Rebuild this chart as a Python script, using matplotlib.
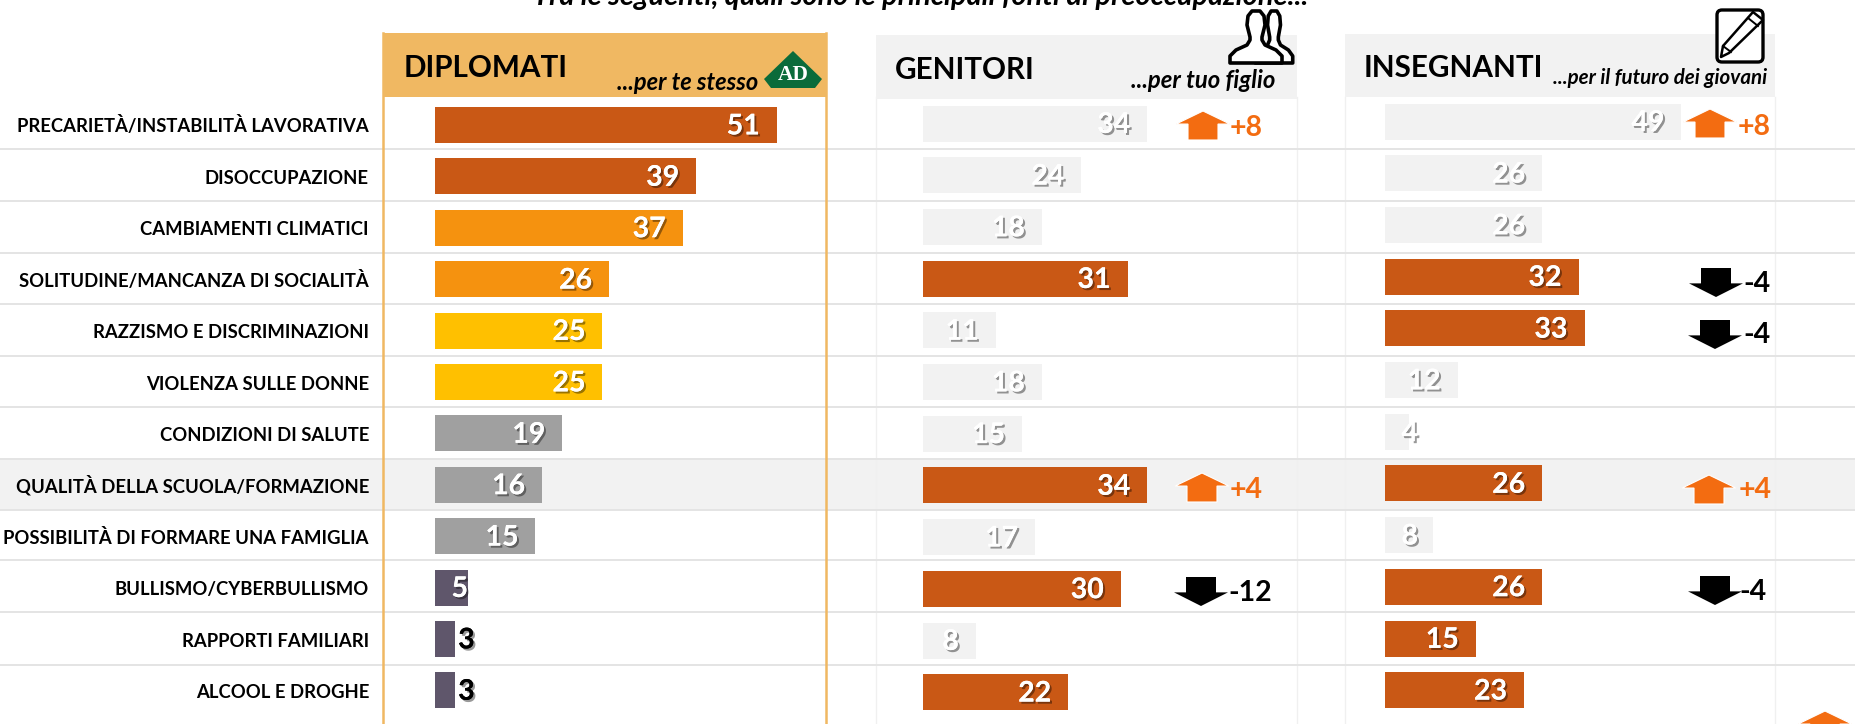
import matplotlib
matplotlib.use("Agg")
import matplotlib.pyplot as plt
import matplotlib.patheffects as pe
from matplotlib.patches import Polygon, Rectangle, FancyBboxPatch

plt.rcParams['font.family'] = ['Lato', 'DejaVu Sans']

W, H = 1856, 724

categories = ["PRECARIETÀ/INSTABILITÀ LAVORATIVA", "DISOCCUPAZIONE", "CAMBIAMENTI CLIMATICI",
              "SOLITUDINE/MANCANZA DI SOCIALITÀ", "RAZZISMO E DISCRIMINAZIONI", "VIOLENZA SULLE DONNE",
              "CONDIZIONI DI SALUTE", "QUALITÀ DELLA SCUOLA/FORMAZIONE", "POSSIBILITÀ DI FORMARE UNA FAMIGLIA",
              "BULLISMO/CYBERBULLISMO", "RAPPORTI FAMILIARI", "ALCOOL E DROGHE"]
diplomati = [51, 39, 37, 26, 25, 25, 19, 16, 15, 5, 3, 3]
genitori = [34, 24, 18, 31, 11, 18, 15, 34, 17, 30, 8, 22]
insegnanti = [49, 26, 26, 32, 33, 12, 4, 26, 8, 26, 15, 23]
diplomati_colors = ["#C95815", "#C95815", "#F5920F", "#F5920F", "#FFC000", "#FFC000",
                    "#A0A0A0", "#A0A0A0", "#A0A0A0", "#5F566B", "#5F566B", "#5F566B"]
genitori_high = [3, 7, 9, 11]
insegnanti_high = [3, 4, 7, 9, 10, 11]
genitori_delta = {0: "+8", 7: "+4", 9: "-12"}
insegnanti_delta = {0: "+8", 3: "-4", 4: "-4", 7: "+4", 9: "-4"}

ORANGE, DARK, GREY = "#F36C11", "#C95815", "#F2F2F2"
GRID = "#E4E4E4"

fig = plt.figure(figsize=(W / 100, H / 100), dpi=100, facecolor="white")

bg = fig.add_axes([0, 0, 1, 1], zorder=0)
bg.set_xlim(0, W); bg.set_ylim(H, 0); bg.axis("off")
top = fig.add_axes([0, 0, 1, 1], zorder=5)
top.set_xlim(0, W); top.set_ylim(H, 0); top.axis("off"); top.patch.set_alpha(0)

# highlighted row and grid lines
bg.add_patch(Rectangle((0, 459), W, 51, fc=GREY, ec="none"))
for y in [149, 201, 253, 304, 356, 407, 459, 510, 560, 612, 665]:
    bg.plot([0, W], [y, y], color=GRID, lw=1.4, zorder=2)

# panel columns
for x in [876, 1297, 1345, 1775]:
    bg.plot([x, x], [97, H], color="#F0F0F0", lw=1.0, zorder=1.5)
for x in [383, 826]:
    bg.plot([x, x], [33, H], color="#F0B862", lw=1.8, zorder=3)
bg.add_patch(Rectangle((383, 33), 443, 64, fc="#F0B862", ec="none", zorder=3))
bg.add_patch(Rectangle((876, 35), 421, 64, fc=GREY, ec="none", zorder=3))
bg.add_patch(Rectangle((1345, 34), 430, 63, fc=GREY, ec="none", zorder=3))

# title (cropped by the top edge of the picture, as in the reference)
top.text(921, 5, "Tra le seguenti, quali sono le principali fonti di preoccupazione...",
         ha="center", va="baseline", fontsize=20.8, fontweight="bold", fontstyle="italic", color="black")

# headers
def header(x, y, s):
    top.text(x, y, s, ha="left", va="center", fontsize=21.3, fontweight="bold", color="black")
def sub(xr, y, s, fs=17):
    top.text(xr, y, s, ha="right", va="center", fontsize=fs, fontweight="bold", fontstyle="italic", color="black")
header(404, 68, "DIPLOMATI")
header(895, 70, "GENITORI")
header(1364, 68, "INSEGNANTI")
sub(758, 83, "...per te stesso")
sub(1275, 81, "...per tuo figlio", 17.2)
sub(1767, 78, "...per il futuro dei giovani", 14.8)

# AD logo
top.add_patch(Polygon([(793, 51), (822, 79), (815, 88), (771, 88), (764, 79)], fc="#0B6B3A", ec="none"))
top.text(793, 75, "AD", ha="center", va="center", fontsize=15.5, fontweight="bold", color="white",
         family="Liberation Serif")

# parents icon
def bust(cx, scale, z):
    xs = [cx - 6, cx - 9, cx - 8, cx - 4, cx + 4, cx + 8, cx + 9, cx + 6, cx + 6, cx + 9,
          cx + 20, cx + 26, cx + 26, cx - 26, cx - 26, cx - 20, cx - 9, cx - 6]
    ys = [37, 25, 16, 11, 11, 16, 25, 37, 40, 45, 50, 56, 63, 63, 56, 50, 45, 40]
    xs = [cx + (v - cx) * scale for v in xs]
    top.add_patch(Polygon(list(zip(xs, ys)), closed=True, fc="white", ec="black", lw=2.6, zorder=z, joinstyle="round"))
bust(1274, 0.72, 6)
bust(1256, 1.0, 7)

# notebook and pencil icon
top.add_patch(FancyBboxPatch((1717, 10), 46, 52, boxstyle="round,pad=0,rounding_size=5",
                             fc="white", ec="black", lw=2.4, zorder=6))
top.add_patch(Polygon([(1721, 57), (1723, 46), (1753, 12), (1763, 20), (1729, 53)],
                      fc="white", ec="black", lw=1.8, zorder=7, joinstyle="round"))
top.plot([1723, 1731], [46, 52], color="black", lw=1.4, zorder=8)
top.plot([1748, 1758], [18, 26], color="black", lw=1.4, zorder=8)

# row labels
for i, c in enumerate(categories):
    top.text(369, 132 + i * 51.5, c, ha="right", va="baseline", fontsize=13.3, fontweight="bold", color="black")

shadow = [pe.withSimplePatchShadow(offset=(1.5, -1.5), shadow_rgbFace="black", alpha=0.4), pe.Normal()]

def panel(left, scale, first, row_h, values, colors):
    width = W - left
    ax = fig.add_axes([left / W, 0, width / W, 1], zorder=3)
    ax.set_xlim(0, width / scale)
    ax.set_ylim((H - first) / row_h, -first / row_h)
    ax.axis("off"); ax.patch.set_alpha(0)
    ax.barh(range(len(values)), values, height=36 / row_h, color=colors, linewidth=0)
    for i, v in enumerate(values):
        if v <= 3:
            ax.annotate(str(v), (v, i), xytext=(2.2, -1), textcoords="offset points", ha="left", va="center",
                        fontsize=20.5, fontweight="bold", color="black", path_effects=shadow)
        else:
            px = max(v * scale - 17, 33)
            ax.annotate(str(v), (px / scale, i), xytext=(0, -1), textcoords="offset points", ha="right", va="center",
                        fontsize=20.5, fontweight="bold", color="white", path_effects=shadow)
    return ax

panel(435, 6.7, 125, 51.4, diplomati, diplomati_colors)
panel(923, 6.6, 123.5, 51.7, genitori, [DARK if i in genitori_high else GREY for i in range(12)])
panel(1385, 6.05, 121.5, 51.7, insegnanti, [DARK if i in insegnanti_high else GREY for i in range(12)])

# change arrows
def arrow(cx, ytop, ybot, up):
    hw, sw = 27, 15
    if up:
        mid = ytop + (ybot - ytop) * 0.45
        pts = [(cx, ytop), (cx + hw, mid), (cx + sw, mid), (cx + sw, ybot), (cx - sw, ybot), (cx - sw, mid), (cx - hw, mid)]
        top.add_patch(Polygon(pts, fc=ORANGE, ec="white", lw=0.8, zorder=6))
    else:
        mid = ytop + (ybot - ytop) * 0.53
        pts = [(cx, ybot), (cx + hw, mid), (cx + sw, mid), (cx + sw, ytop), (cx - sw, ytop), (cx - sw, mid), (cx - hw, mid)]
        top.add_patch(Polygon(pts, fc="black", ec="none", zorder=6))

def deltas(delta, arrow_pos, text_pos, centers):
    for row, s in delta.items():
        up = s.startswith("+")
        ax_c, yt = arrow_pos[row]
        arrow(ax_c, yt, yt + 29, up)
        top.text(text_pos[row], centers[row], s, ha="center", va="center", fontsize=20.5, fontweight="bold",
                 color=ORANGE if up else "black", zorder=7)

deltas(genitori_delta, {0: (1203, 111), 7: (1202, 473), 9: (1201, 577)},
       {0: 1246, 7: 1246, 9: 1250}, {0: 128, 7: 490, 9: 593})
deltas(insegnanti_delta, {0: (1710, 109), 3: (1716, 268), 4: (1715, 320), 7: (1709, 475), 9: (1715, 576)},
       {0: 1754, 3: 1757, 4: 1757, 7: 1755, 9: 1753}, {0: 127, 3: 284, 4: 335, 7: 490, 9: 592})
arrow(1825, 711, 740, True)

fig.savefig("out.png", dpi=100)
